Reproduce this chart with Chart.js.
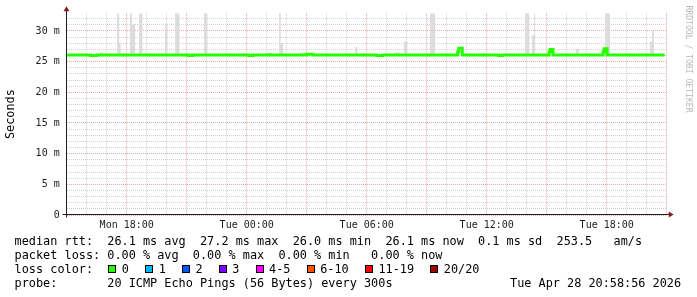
<!DOCTYPE html>
<html>
<head>
<meta charset="utf-8">
<script src="https://cdn.jsdelivr.net/npm/chart.js@4.4.1/dist/chart.umd.min.js"></script>
<style>
  body { margin: 0; background: #fff; }
  #wrap { position: relative; width: 697px; height: 297px; overflow: hidden; }
  #chart { position: absolute; left: 0; top: 0; }
  .txt { position: absolute; font-family: 'DejaVu Sans Mono', monospace; font-size: 11.85px; line-height: 14px; white-space: pre; color: #000; }
  .sw { position: absolute; width: 8px; height: 8px; border: 1px solid #000; box-sizing: border-box; }
</style>
</head>
<body>
<div id="wrap">
  <canvas id="chart" width="697" height="297"></canvas>
  <div class="txt" style="left:14.6px; top:234px">median rtt:  26.1 ms avg  27.2 ms max  26.0 ms min  26.1 ms now  0.1 ms sd  253.5   am/s</div>
  <div class="txt" style="left:14.6px; top:248px">packet loss: 0.00 % avg  0.00 % max  0.00 % min   0.00 % now</div>
  <div class="txt" style="left:14.6px; top:262px">loss color:</div>
  <div class="txt" style="left:14.6px; top:276px">probe:       20 ICMP Echo Pings (56 Bytes) every 300s</div>
  <div class="txt" style="left:510px; top:276px">Tue Apr 28 20:58:56 2026</div>
</div>
<script>
// x axis is in hours since Mon 15:00 (left edge of the graph)
const hourTicks = [3, 9, 15, 21, 27];
const hourLabels = ['Mon 18:00', 'Tue 00:00', 'Tue 06:00', 'Tue 12:00', 'Tue 18:00'];
const msTicks = [0, 5, 10, 15, 20, 25, 30];
const msLabels = ['0', '5 m', '10 m', '15 m', '20 m', '25 m', '30 m'];

// median rtt in ms, value holds until the next point
const medianHours = [0, 1.2, 1.5, 6.1, 6.3, 9.1, 9.3, 12.0, 12.3, 15.5, 15.8, 19.55, 19.6, 19.78,
  21.6, 21.8, 24.12, 24.17, 24.32, 26.82, 26.87, 27.02, 29.9];
const medianMs = [26.1, 26.0, 26.1, 26.0, 26.1, 26.0, 26.1, 26.2, 26.1, 26.0, 26.1, 26.6, 27.2, 26.1,
  26.0, 26.1, 26.6, 27.0, 26.1, 26.6, 27.1, 26.1, 26.1];

// smoke (spread of the 20 pings): start hour, end hour, highest ping in ms
const smokeStart = [1.67, 2.52, 2.62, 3.17, 3.27, 3.62, 4.92, 5.42, 6.87, 10.02, 10.62, 10.7, 11.67,
  14.42, 16.4, 16.87, 18.17, 22.92, 23.27, 23.37, 25.47, 26.92, 27.3, 29.17, 29.27];
const smokeEnd = [1.82, 2.62, 2.7, 3.27, 3.42, 3.79, 5.04, 5.64, 7.04, 10.27, 10.7, 10.82, 11.92,
  14.53, 16.65, 17.04, 18.42, 23.13, 23.37, 23.42, 25.62, 27.17, 27.45, 29.27, 29.37];
const smokeTop = [26.5, 32.9, 28.1, 32.9, 31.1, 32.9, 31.2, 32.9, 32.9, 26.5, 32.9, 28.0, 26.5,
  27.4, 26.5, 28.3, 32.9, 32.9, 29.3, 32.9, 27.1, 32.9, 26.4, 28.3, 30.0];
const smokeBase = 26.0;

const lossLabels = ['0', '1', '2', '3', '4-5', '6-10', '11-19', '20/20'];
const lossColors = ['#26ff00', '#00b8ff', '#0059ff', '#7e00ff', '#ff00ff', '#ff5500', '#ff0000', '#a10000'];

const medianPoints = medianHours.map((h, i) => ({x: h, y: medianMs[i]}));
const smokePoints = [];
smokeStart.forEach((s, i) => {
    smokePoints.push({x: s, y: smokeBase}, {x: s, y: smokeTop[i]},
                     {x: smokeEnd[i], y: smokeTop[i]}, {x: smokeEnd[i], y: smokeBase});
});

// loss color legend boxes
const wrap = document.querySelector('#wrap');
let lx = 108.3;
lossLabels.forEach((lab, i) => {
    const box = document.createElement('div');
    box.className = 'sw';
    box.style.left = lx + 'px';
    box.style.top = '265px';
    box.style.background = lossColors[i];
    wrap.appendChild(box);
    const t = document.createElement('div');
    t.className = 'txt';
    t.style.left = (lx + 13.5) + 'px';
    t.style.top = '262px';
    t.textContent = lab;
    wrap.appendChild(t);
    lx += 14.5 + lab.length * 7.13 + 15.2;
});

const gridGray = 'rgba(150,150,150,0.42)';
const gridRed = 'rgba(222,79,79,0.5)';
const mono = 'DejaVu Sans Mono';

// axes with arrows and the rotated side texts
const rrdDecor = {
    id: 'rrdDecor',
    afterDraw(c) {
        const ctx = c.ctx;
        const a = c.chartArea;
        const x0 = Math.round(a.left) - 0.5;
        const y0 = Math.round(a.bottom) - 0.5;
        ctx.save();
        ctx.strokeStyle = 'rgb(31,31,31)';
        ctx.lineWidth = 1;
        ctx.beginPath();
        ctx.moveTo(x0, y0 + 3);
        ctx.lineTo(x0, a.top - 3);
        ctx.moveTo(x0 - 4, y0);
        ctx.lineTo(a.right + 3, y0);
        ctx.stroke();
        ctx.fillStyle = 'rgb(128,31,31)';
        ctx.beginPath();
        ctx.moveTo(x0 - 3, a.top - 2);
        ctx.lineTo(x0 + 3, a.top - 2);
        ctx.lineTo(x0, a.top - 7);
        ctx.closePath();
        ctx.fill();
        ctx.beginPath();
        ctx.moveTo(a.right + 2, y0 - 3);
        ctx.lineTo(a.right + 2, y0 + 3);
        ctx.lineTo(a.right + 7, y0);
        ctx.closePath();
        ctx.fill();

        ctx.fillStyle = '#000';
        ctx.font = '11.85px "' + mono + '"';
        ctx.textAlign = 'center';
        ctx.textBaseline = 'middle';
        ctx.translate(10.5, (a.top + a.bottom) / 2);
        ctx.rotate(-Math.PI / 2);
        ctx.fillText('Seconds', 0, 0);
        ctx.restore();

        ctx.save();
        ctx.fillStyle = '#b8b8b8';
        ctx.font = '8.1px "' + mono + '"';
        ctx.textAlign = 'center';
        ctx.textBaseline = 'middle';
        ctx.translate(688, 59);
        ctx.rotate(Math.PI / 2);
        ctx.fillText('RRDTOOL / TOBI OETIKER', 0, 0);
        ctx.restore();
    }
};

new Chart(document.querySelector('#chart').getContext('2d'), {
    type: 'line',
    data: {
        datasets: [
            {
                label: 'median',
                data: medianPoints,
                stepped: true,
                borderColor: '#26ff00',
                borderWidth: 3,
                pointRadius: 0,
                fill: false,
                order: 0
            },
            {
                label: 'smoke',
                data: smokePoints,
                borderWidth: 0,
                pointRadius: 0,
                backgroundColor: '#dcdcdc',
                fill: {value: smokeBase},
                order: 1
            }
        ]
    },
    options: {
        responsive: false,
        animation: false,
        layout: { padding: { left: 0, right: 30.3, top: 13.2, bottom: 62 } },
        plugins: { legend: { display: false }, tooltip: { enabled: false } },
        scales: {
            x: {
                type: 'linear',
                min: 0,
                max: 30,
                afterFit: s => { s.height = 20; },
                border: { display: false, dash: [1, 1] },
                grid: {
                    drawTicks: false,
                    lineWidth: 1,
                    color: ctx => (ctx.tick && ctx.tick.value % 3 === 0) ? gridRed : gridGray
                },
                ticks: {
                    stepSize: 1,
                    includeBounds: false,
                    autoSkip: false,
                    maxRotation: 0,
                    padding: 4,
                    color: '#222',
                    font: { family: mono, size: 10 },
                    callback: v => {
                        const i = hourTicks.indexOf(v);
                        return i >= 0 ? hourLabels[i] : '';
                    }
                }
            },
            y: {
                min: 0,
                max: 32.9,
                afterFit: s => { s.width = 66.7; },
                border: { display: false, dash: [1, 1] },
                grid: {
                    drawTicks: false,
                    lineWidth: 1,
                    color: ctx => (ctx.tick && ctx.tick.value % 5 === 0) ? gridRed : gridGray
                },
                ticks: {
                    stepSize: 1,
                    includeBounds: false,
                    autoSkip: false,
                    padding: 7,
                    color: '#222',
                    font: { family: mono, size: 10 },
                    callback: v => {
                        const i = msTicks.indexOf(v);
                        return i >= 0 ? msLabels[i] : '';
                    }
                }
            }
        }
    },
    plugins: [rrdDecor]
});
</script>
</body>
</html>
